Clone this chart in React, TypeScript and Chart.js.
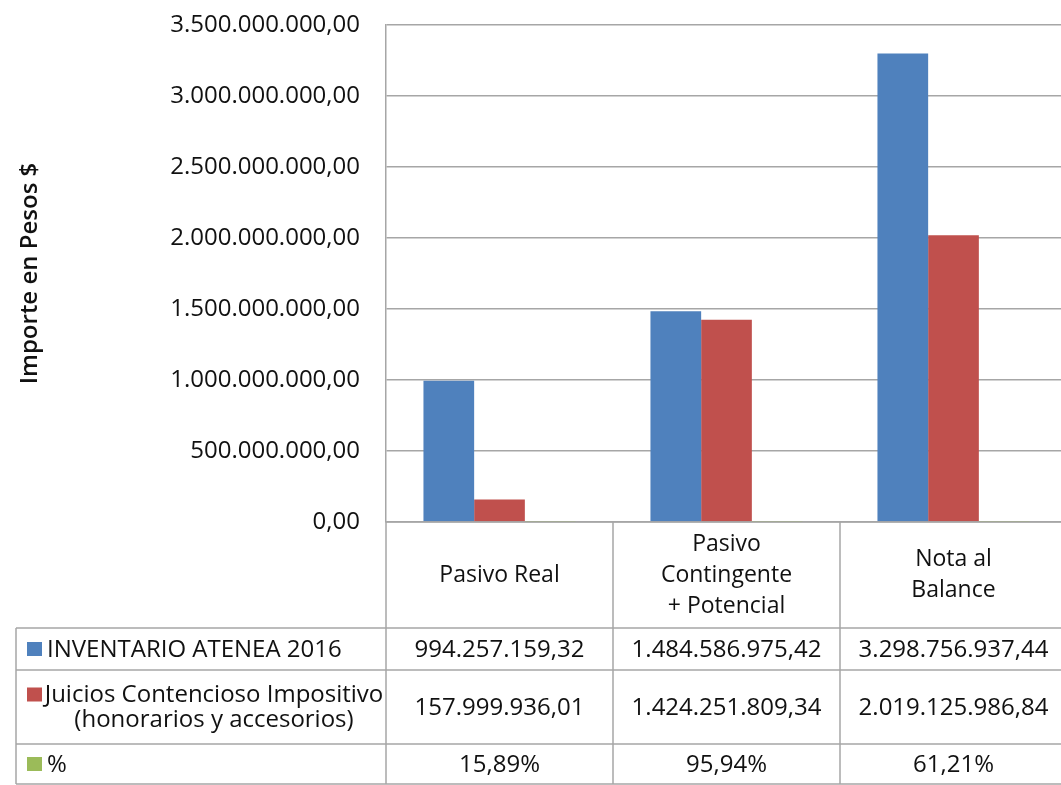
import React, { useEffect, useRef } from "react";
import { Chart, registerables } from "chart.js";

Chart.register(...registerables);

const categories: string[][] = [["Pasivo Real"], ["Pasivo", "Contingente", "+ Potencial"], ["Nota al", "Balance"]];
const seriesNames: string[][] = [["INVENTARIO ATENEA 2016"], ["Juicios Contencioso Impositivo", "(honorarios y accesorios)"], ["%"]];
const inventario: number[] = [994257159.32, 1484586975.42, 3298756937.44];
const juicios: number[] = [157999936.01, 1424251809.34, 2019125986.84];
const porcentaje: number[] = [15.89, 95.94, 61.21];
const colors: string[] = ["#4F81BD", "#C0504D", "#9BBB59"];

const FONT = "'Open Sans', sans-serif";
const LINE = "#a6a6a6";
const TEXT = "#111111";

function fmt(v: number): string {
  const [i, d] = v.toFixed(2).split(".");
  return i.replace(/\B(?=(\d{3})+(?!\d))/g, ".") + "," + d;
}

const tablePlugin = {
  id: "dataTable",
  afterDraw(chart: any) {
    const ctx = chart.ctx;
    const x = chart.scales.x;
    const ca = chart.chartArea;
    const n = categories.length;
    const step = x.getPixelForValue(1) - x.getPixelForValue(0);
    const bounds: number[] = [];
    for (let i = 0; i <= n; i++) bounds.push(x.getPixelForValue(i) - step / 2);
    const headerBottom = 628;
    const rowBottoms = [670, 744, 784];
    const tableLeft = 16;
    const right = chart.width;

    ctx.save();
    ctx.strokeStyle = LINE;
    ctx.lineWidth = 1.5;
    const line = (x1: number, y1: number, x2: number, y2: number) => {
      ctx.beginPath();
      ctx.moveTo(x1, y1);
      ctx.lineTo(x2, y2);
      ctx.stroke();
    };
    line(ca.left, ca.bottom, right, ca.bottom);
    line(tableLeft, headerBottom, right, headerBottom);
    rowBottoms.forEach((y) => line(tableLeft, y, right, y));
    line(tableLeft, headerBottom, tableLeft, rowBottoms[rowBottoms.length - 1]);
    bounds.forEach((bx) => line(bx, ca.bottom, bx, rowBottoms[rowBottoms.length - 1]));

    ctx.fillStyle = TEXT;
    ctx.textBaseline = "middle";
    ctx.textAlign = "center";
    ctx.font = `23px ${FONT}`;
    const headerMid = (ca.bottom + headerBottom) / 2;
    categories.forEach((lines, i) => {
      const cx = x.getPixelForValue(i);
      const lh = 31;
      const y0 = headerMid - ((lines.length - 1) * lh) / 2;
      lines.forEach((t, k) => ctx.fillText(t, cx, y0 + k * lh));
    });

    ctx.font = `24px ${FONT}`;
    const rowTops = [headerBottom, rowBottoms[0], rowBottoms[1]];
    const values = [inventario.map(fmt), juicios.map(fmt), porcentaje.map((p) => fmt(p) + "%")];
    for (let r = 0; r < 3; r++) {
      const mid = (rowTops[r] + rowBottoms[r]) / 2;
      values[r].forEach((t, i) => {
        ctx.textAlign = "center";
        ctx.fillText(t, x.getPixelForValue(i), mid + 1);
      });
      const names = seriesNames[r];
      const lh = 25;
      const y0 = mid - ((names.length - 1) * lh) / 2;
      ctx.fillStyle = colors[r];
      ctx.fillRect(27, y0 - 7, 15, 14);
      ctx.fillStyle = TEXT;
      if (names.length === 1) {
        ctx.textAlign = "left";
        ctx.fillText(names[0], 47, y0 + 1);
      } else {
        ctx.textAlign = "center";
        const cx = (47 + ca.left - 5) / 2;
        names.forEach((t, k) => ctx.fillText(t, cx, y0 + k * lh + 1));
      }
    }
    ctx.restore();
  },
};

export default function App() {
  const ref = useRef<HTMLCanvasElement>(null);
  useEffect(() => {
    if (!ref.current) return;
    const chart = new Chart(ref.current, {
      type: "bar",
      data: {
        labels: categories.map((c) => c.join(" ")),
        datasets: [
          { label: seriesNames[0].join(" "), data: inventario, backgroundColor: colors[0] },
          { label: seriesNames[1].join(" "), data: juicios, backgroundColor: colors[1] },
          { label: seriesNames[2].join(" "), data: porcentaje.map((p) => p / 100), backgroundColor: colors[2] },
        ],
      },
      options: {
        animation: false,
        responsive: false,
        layout: { padding: { top: 25, bottom: 263, left: 0, right: 0 } },
        datasets: { bar: { barPercentage: 1, categoryPercentage: 0.67 } },
        plugins: { legend: { display: false }, tooltip: { enabled: false } },
        scales: {
          x: { display: false },
          y: {
            min: 0,
            max: 3500000000,
            afterFit: (s: any) => {
              s.width = 386;
              s.paddingTop = 0;
              s.paddingBottom = 0;
            },
            ticks: {
              stepSize: 500000000,
              padding: 26,
              color: TEXT,
              font: { family: FONT, size: 24 },
              callback: (v: any) => fmt(Number(v)),
            },
            grid: { color: LINE, lineWidth: 1.5, drawTicks: false },
            border: { display: true, color: LINE, width: 1.5 },
            title: {
              display: true,
              text: "Importe en Pesos $",
              color: TEXT,
              font: { family: FONT, size: 24, weight: "600" },
              padding: { top: 16, bottom: 0 },
            },
          },
        },
      },
      plugins: [tablePlugin],
    });
    return () => chart.destroy();
  }, []);
  return (
    <div style={{ position: "fixed", left: 0, top: 0, width: 1067, height: 785, background: "#fff" }}>
      <canvas ref={ref} width={1067} height={785} />
    </div>
  );
}
